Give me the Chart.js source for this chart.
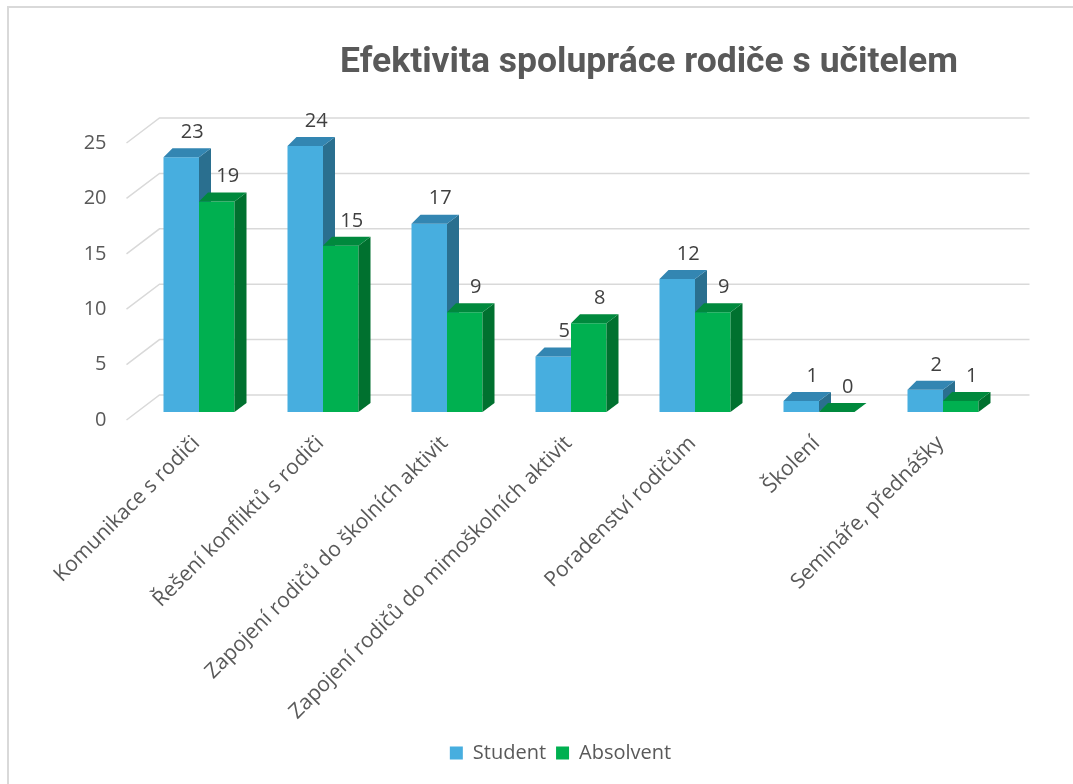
<!DOCTYPE html>
<html>
<head>
<meta charset="utf-8">
<script src="https://cdn.jsdelivr.net/npm/chart.js@4.4.1/dist/chart.umd.min.js"></script>
<style>
    html, body { margin: 0; padding: 0; background: #fff; }
    #wrap { position: relative; width: 1073px; height: 784px; overflow: hidden; }
    #frame { position: absolute; left: 7px; top: 6px; width: 1200px; height: 900px; border-top: 2px solid #d9d9d9; border-left: 2px solid #d9d9d9; }
    canvas { position: absolute; left: 0; top: 0; }
</style>
</head>
<body>
<div id="wrap"><div id="frame"></div><canvas id="c" width="1073" height="784"></canvas></div>
<script>
const TITLE = 'Efektivita spolupráce rodiče s učitelem';
const categories = [
    'Komunikace s rodiči',
    'Řešení konfliktů s rodiči',
    'Zapojení rodičů do školních aktivit',
    'Zapojení rodičů do mimoškolních aktivit',
    'Poradenství rodičům',
    'Školení',
    'Semináře, přednášky'
];
const seriesNames = ['Student', 'Absolvent'];
const studentValues = [23, 24, 17, 5, 12, 1, 2];
const absolventValues = [19, 15, 9, 8, 9, 0, 1];
const yTicks = [0, 5, 10, 15, 20, 25];

// faux 3D: back wall offset, bar offset from front plane, bar depth
const WALL = { dx: 33, dy: 25 };
const OFF = { dx: 10.5, dy: 8 };
const DEPTH = { dx: 12, dy: 9 };
const FACES = [
    { front: '#47AEDF', side: '#2A6F8F', top: '#3386B2' },
    { front: '#00B050', side: '#00712F', top: '#00893D' }
];
const TEXT = '#595959';
const FONT = "'Open Sans', sans-serif";

function poly(ctx, pts, fill) {
    ctx.beginPath();
    ctx.moveTo(pts[0][0], pts[0][1]);
    for (let k = 1; k < pts.length; k++) ctx.lineTo(pts[k][0], pts[k][1]);
    ctx.closePath();
    ctx.fillStyle = fill;
    ctx.fill();
}

const depthBars = {
    id: 'depthBars',
    beforeDraw(chart) {
        const { ctx, chartArea } = chart;
        const y = chart.scales.y;
        // title, sized to the reference width
        ctx.save();
        let size = 28;
        ctx.font = `bold ${size}px Roboto`;
        while (ctx.measureText(TITLE).width < 616 && size < 40) { size += 0.25; ctx.font = `bold ${size}px Roboto`; }
        ctx.fillStyle = TEXT;
        ctx.textAlign = 'center';
        ctx.textBaseline = 'alphabetic';
        ctx.fillText(TITLE, 649, 72);
        // grid: slanted side wall + back wall
        ctx.strokeStyle = '#d9d9d9';
        ctx.lineWidth = 1.5;
        y.ticks.forEach(t => {
            const py = y.getPixelForValue(t.value);
            ctx.beginPath();
            ctx.moveTo(chartArea.left, py);
            ctx.lineTo(chartArea.left + WALL.dx, py - WALL.dy);
            ctx.lineTo(chartArea.right + WALL.dx + 2, py - WALL.dy);
            ctx.stroke();
        });
        ctx.restore();
    },
    beforeDatasetsDraw(chart) {
        const ctx = chart.ctx;
        const metas = chart.data.datasets.map((_, i) => chart.getDatasetMeta(i));
        ctx.save();
        for (let j = 0; j < categories.length; j++) {
            metas.forEach((meta, i) => {
                const bar = meta.data[j];
                const { x, y, base, width } = bar.getProps(['x', 'y', 'base', 'width'], true);
                const l = x - width / 2 + OFF.dx, r = x + width / 2 + OFF.dx;
                const t = y - OFF.dy, b = base - OFF.dy;
                const c = FACES[i];
                if (b - t > 0.5) poly(ctx, [[l, t], [r, t], [r, b], [l, b]], c.front);
                poly(ctx, [[r, t], [r + DEPTH.dx, t - DEPTH.dy], [r + DEPTH.dx, b - DEPTH.dy], [r, b]], c.side);
                poly(ctx, [[l, t], [l + DEPTH.dx - 3, t - DEPTH.dy], [r + DEPTH.dx, t - DEPTH.dy], [r, t]], c.top);
            });
        }
        ctx.restore();
        return false;
    },
    afterDraw(chart) {
        const ctx = chart.ctx;
        ctx.save();
        ctx.font = `20px ${FONT}`;
        ctx.fillStyle = '#404040';
        ctx.textAlign = 'center';
        ctx.textBaseline = 'middle';
        chart.data.datasets.forEach((ds, i) => {
            chart.getDatasetMeta(i).data.forEach((bar, j) => {
                const { x, y } = bar.getProps(['x', 'y'], true);
                ctx.fillText(String(ds.data[j]), x + OFF.dx + 11, y - OFF.dy - 25);
            });
        });
        ctx.restore();
    }
};

new Chart(document.getElementById('c'), {
    type: 'bar',
    data: {
        labels: categories,
        datasets: [
            { label: seriesNames[0], data: studentValues, backgroundColor: FACES[0].front, categoryPercentage: 0.5726, barPercentage: 1 },
            { label: seriesNames[1], data: absolventValues, backgroundColor: FACES[1].front, categoryPercentage: 0.5726, barPercentage: 1 }
        ]
    },
    options: {
        responsive: false,
        animation: false,
        layout: { padding: { top: 143, left: 0, right: 78.5, bottom: 11 } },
        plugins: {
            title: { display: false },
            tooltip: { enabled: false },
            legend: {
                position: 'bottom',
                fullSize: false,
                labels: { color: TEXT, font: { family: FONT, size: 20 }, boxWidth: 13, boxHeight: 13, padding: 10 }
            }
        },
        scales: {
            x: {
                grid: { display: false },
                border: { display: false },
                ticks: { color: TEXT, font: { family: FONT, size: 21 }, minRotation: 45, maxRotation: 45, autoSkip: false, labelOffset: 8, padding: 3 },
                afterFit: s => { s.height = 313; }
            },
            y: {
                min: 0, max: 25,
                grid: { display: false, drawTicks: false },
                border: { display: false },
                ticks: { color: TEXT, font: { family: FONT, size: 20 }, padding: 20 },
                afterBuildTicks: s => { s.ticks = yTicks.map(v => ({ value: v })); },
                afterFit: s => { s.width = 126.5; }
            }
        }
    },
    plugins: [depthBars]
});
</script>
</body>
</html>
